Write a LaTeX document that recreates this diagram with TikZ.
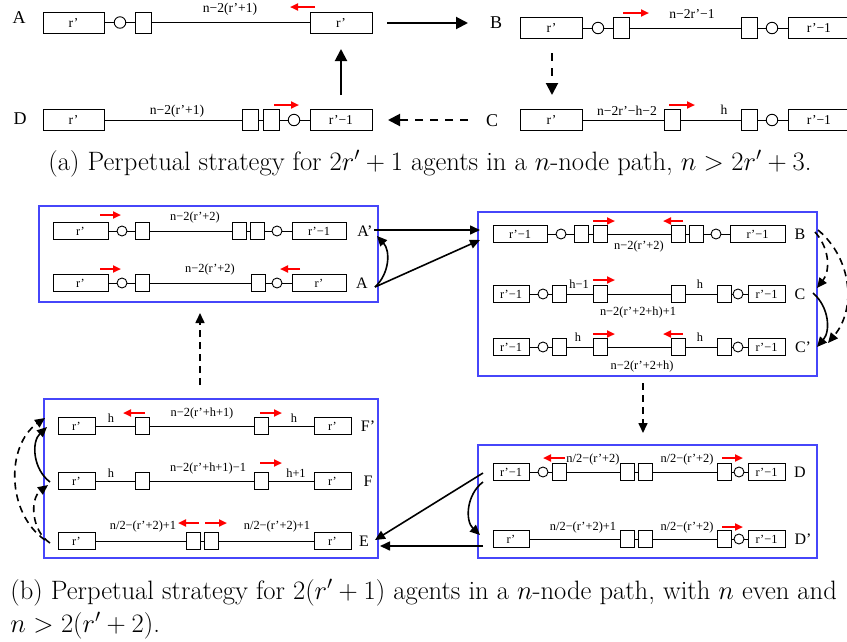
\documentclass[tikz,border=0pt]{standalone}
\usepackage{fix-cm}
\usepackage{fontspec}
\newfontfamily\tms{Liberation Serif}
\usetikzlibrary{arrows.meta}
\definecolor{grpblue}{RGB}{70,70,250}
\newcommand\rowafont{\tms\fontsize{13.6}{15}\selectfont}
\newcommand\rowbfont{\tms\fontsize{12.4}{14}\selectfont}
\tikzset{
  boxA/.style={draw, fill=white, inner sep=0pt, minimum height=21pt, minimum width=#1, font=\rowafont},
  agA/.style={draw, fill=white, inner sep=0pt, minimum height=21pt, minimum width=16pt},
  vtxA/.style={draw, circle, fill=white, inner sep=0pt, minimum size=11.5pt},
  lblA/.style={inner sep=0pt, font=\rowafont},
  stA/.style={inner sep=0pt, font=\tms\fontsize{18}{20}\selectfont},
  boxB/.style={draw, fill=white, inner sep=0pt, minimum height=17pt, minimum width=#1, font=\rowbfont},
  agB/.style={draw, fill=white, inner sep=0pt, minimum height=17pt, minimum width=14pt},
  vtxB/.style={draw, circle, fill=white, inner sep=0pt, minimum size=10pt},
  lblB/.style={inner sep=0pt, font=\rowbfont},
  stB/.style={inner sep=0pt, font=\tms\fontsize{16}{18}\selectfont},
  grp/.style={draw=grpblue, line width=1.2pt, inner sep=0pt},
  mv/.style={red, line width=2pt, -{Triangle[length=8pt,width=7pt]}},
  bigarr/.style={line width=2pt, -{Triangle[length=12pt,width=12pt]}},
  bigdash/.style={bigarr, dash pattern=on 8pt off 7pt},
  arrb/.style={line width=1.6pt, -{Triangle[length=10pt,width=9pt]}},
  dashb/.style={arrb, dash pattern=on 7pt off 5pt},
  captext/.style={inner sep=0pt, anchor=base west, font=\fontsize{26.6}{32}\selectfont},
}
\begin{document}
\begin{tikzpicture}[x=1pt,y=-1pt,line width=0.9pt]
\useasboundingbox (0,0) rectangle (847,641);

% ---------------- (a) ----------------
% state A
\node[boxA=61pt] (A1) at (73.5,22.5) {r’};
\node[vtxA] (A2) at (120,22.5) {};
\node[agA] (A3) at (143,22.5) {};
\node[boxA=62pt] (A4) at (341,22.5) {r’};
\draw (A1) -- (A2) -- (A3) -- (A4);
\node[lblA] (A5) at (230,9) {n−2(r’+1)};
\draw[mv] (315,7) -- (290,7);
\node[stA] (Alab) at (19,18) {A};

% state B
\node[boxA=62pt] (B1) at (551.5,28) {r’};
\node[vtxA] (B2) at (598,28) {};
\node[agA] (B3) at (621,28) {};
\node[agA] (B4) at (749.5,28) {};
\node[vtxA] (B5) at (772,28) {};
\node[boxA=62pt] (B6) at (819,28) {r’−1};
\draw (B1) -- (B2) -- (B3) -- (B4) -- (B5) -- (B6);
\node[lblA] (B7) at (692,14) {n−2r’−1};
\draw[mv] (623,13) -- (649,13);
\node[stA] (Blab) at (496,23) {B};

% state C
\node[boxA=62pt] (C1) at (551.5,120) {r’};
\node[agA] (C2) at (672.5,120) {};
\node[agA] (C3) at (749.5,120) {};
\node[vtxA] (C4) at (772,120) {};
\node[boxA=62pt] (C5) at (819,120) {r’−1};
\draw (C1) -- (C2) -- (C3) -- (C4) -- (C5);
\node[lblA] (C6) at (627,111) {n−2r’−h−2};
\node[lblA] (C7) at (724,110) {h};
\draw[mv] (669,105) -- (695,105);
\node[stA] (Clab) at (492,121) {C};

% state D
\node[boxA=61pt] (D1) at (73.5,120) {r’};
\node[agA] (D2) at (250.5,120) {};
\node[agA] (D3) at (271,120) {};
\node[vtxA] (D4) at (294,120) {};
\node[boxA=62pt] (D5) at (341,120) {r’−1};
\draw (D1) -- (D2) -- (D3) -- (D4) -- (D5);
\node[lblA] (D6) at (177,111) {n−2(r’+1)};
\draw[mv] (274,105) -- (299,105);
\node[stA] (Dlab) at (20,119) {D};

% transitions of (a)
\coordinate (ab0) at (387,23);  \coordinate (ab1) at (468,23);
\coordinate (bc0) at (552,53);  \coordinate (bc1) at (552,95);
\coordinate (cd0) at (468,120); \coordinate (cd1) at (388,120);
\coordinate (da0) at (341,95);  \coordinate (da1) at (341,49);
\draw[bigarr] (ab0) -- (ab1);
\draw[bigdash] (bc0) -- (bc1);
\draw[bigdash] (cd0) -- (cd1);
\draw[bigarr] (da0) -- (da1);

\node[captext] (capa) at (48,170) {(a) Perpetual strategy for $2r'+1$ agents in a $n$-node path, $n>2r'+3$.};

% ---------------- (b) ----------------
\node[grp, minimum width=339pt, minimum height=96pt] (GA) at (208.5,254) {};
\node[grp, minimum width=339pt, minimum height=164pt] (GB) at (647.5,294) {};
\node[grp, minimum width=339pt, minimum height=113pt] (GD) at (647.5,501.5) {};
\node[grp, minimum width=334pt, minimum height=159pt] (GE) at (211,478.5) {};

% state A'
\node[boxB=55pt] (P1) at (80.5,231) {r’};
\node[vtxB] (P2) at (122,231) {};
\node[agB] (P3) at (142.5,231) {};
\node[agB] (P4) at (239,231) {};
\node[agB] (P5) at (257,231) {};
\node[vtxB] (P6) at (277,231) {};
\node[boxB=54pt] (P7) at (319,231) {r’−1};
\draw (P1) -- (P2) -- (P3) -- (P4) -- (P5) -- (P6) -- (P7);
\node[lblB] (P8) at (195,218) {n−2(r’+2)};
\draw[mv] (100,215) -- (121,215);
\node[stB] (Pl) at (365,231) {A’};

% state A
\node[boxB=55pt] (Q1) at (80.5,283) {r’};
\node[vtxB] (Q2) at (122,283) {};
\node[agB] (Q3) at (142.5,283) {};
\node[agB] (Q4) at (258,283) {};
\node[vtxB] (Q5) at (277,283) {};
\node[boxB=54pt] (Q6) at (319,283) {r’};
\draw (Q1) -- (Q2) -- (Q3) -- (Q4) -- (Q5) -- (Q6);
\node[lblB] (Q7) at (210,270) {n−2(r’+2)};
\draw[mv] (100,269) -- (121,269);
\draw[mv] (300,269) -- (280,269);
\node[stB] (Ql) at (362,283) {A};

% state B
\node[boxB=54pt] (R1) at (520,234) {r’−1};
\node[vtxB] (R2) at (561,234) {};
\node[agB] (R3) at (581,234) {};
\node[agB] (R4) at (600,234) {};
\node[agB] (R5) at (678,234) {};
\node[agB] (R6) at (696,234) {};
\node[vtxB] (R7) at (716,234) {};
\node[boxB=55pt] (R8) at (757.5,234) {r’−1};
\draw (R1) -- (R2) -- (R3) -- (R4) -- (R5) -- (R6) -- (R7) -- (R8);
\node[lblB] (R9) at (639,247) {n−2(r’+2)};
\draw[mv] (593,221) -- (615,221);
\draw[mv] (683,221) -- (663,221);
\node[stB] (Rl) at (800,234) {B};

% state C
\node[boxB=36pt] (S1) at (511,294) {r’−1};
\node[vtxB] (S2) at (543,294) {};
\node[agB] (S3) at (559,294) {};
\node[agB] (S4) at (600,294) {};
\node[agB] (S5) at (678,294) {};
\node[agB] (S6) at (724,294) {};
\node[vtxB] (S7) at (738,294) {};
\node[boxB=37pt] (S8) at (766.5,294) {r’−1};
\draw (S1) -- (S2) -- (S3) -- (S4) -- (S5) -- (S6) -- (S7) -- (S8);
\node[lblB] (S9) at (579,284) {h−1};
\node[lblB] (S10) at (700,284) {h};
\node[lblB] (S11) at (638,313) {n−2(r’+2+h)+1};
\draw[mv] (593,280) -- (615,280);
\node[stB] (Sl) at (800,294) {C};

% state C'
\node[boxB=36pt] (T1) at (511,347) {r’−1};
\node[vtxB] (T2) at (543,347) {};
\node[agB] (T3) at (559,347) {};
\node[agB] (T4) at (600,347) {};
\node[agB] (T5) at (678,347) {};
\node[agB] (T6) at (724,347) {};
\node[vtxB] (T7) at (738,347) {};
\node[boxB=37pt] (T8) at (766.5,347) {r’−1};
\draw (T1) -- (T2) -- (T3) -- (T4) -- (T5) -- (T6) -- (T7) -- (T8);
\node[lblB] (T9) at (578,337) {h};
\node[lblB] (T10) at (700,337) {h};
\node[lblB] (T11) at (642,367) {n−2(r’+2+h)};
\draw[mv] (593,334) -- (615,334);
\draw[mv] (683,334) -- (663,334);
\node[stB] (Tl) at (803,347) {C’};

% state D
\node[boxB=36pt] (U1) at (511,472) {r’−1};
\node[vtxB] (U2) at (543,472) {};
\node[agB] (U3) at (559,472) {};
\node[agB] (U4) at (627.5,472) {};
\node[agB] (U5) at (645,472) {};
\node[agB] (U6) at (724,472) {};
\node[vtxB] (U7) at (739,472) {};
\node[boxB=37pt] (U8) at (766.5,472) {r’−1};
\draw (U1) -- (U2) -- (U3) -- (U4) -- (U5) -- (U6) -- (U7) -- (U8);
\node[lblB] (U9) at (593,460) {n/2−(r’+2)};
\node[lblB] (U10) at (687,460) {n/2−(r’+2)};
\draw[mv] (565,458) -- (543,458);
\draw[mv] (722,458) -- (743,458);
\node[stB] (Ul) at (800,472) {D};

% state D'
\node[boxB=36pt] (V1) at (511,539) {r’};
\node[agB] (V2) at (627.5,539) {};
\node[agB] (V3) at (645,539) {};
\node[agB] (V4) at (724,539) {};
\node[vtxB] (V5) at (739,539) {};
\node[boxB=37pt] (V6) at (766.5,539) {r’−1};
\draw (V1) -- (V2) -- (V3) -- (V4) -- (V5) -- (V6);
\node[lblB] (V7) at (583,528) {n/2−(r’+2)+1};
\node[lblB] (V8) at (687,528) {n/2−(r’+2)};
\draw[mv] (722,527) -- (743,527);
\node[stB] (Vl) at (803,539) {D’};

% state F'
\node[boxB=37pt] (W1) at (76.5,426) {r’};
\node[agB] (W2) at (142.5,426) {};
\node[agB] (W3) at (261.5,426) {};
\node[boxB=37pt] (W4) at (332.5,426) {r’};
\draw (W1) -- (W2) -- (W3) -- (W4);
\node[lblB] (W5) at (111,418) {h};
\node[lblB] (W6) at (202,414) {n−2(r’+h+1)};
\node[lblB] (W7) at (294,418) {h};
\draw[mv] (145,413) -- (123,413);
\draw[mv] (260,413) -- (282,413);
\node[stB] (Wl) at (368,426) {F’};

% state F
\node[boxB=37pt] (X1) at (76.5,481) {r’};
\node[agB] (X2) at (142.5,481) {};
\node[agB] (X3) at (261.5,481) {};
\node[boxB=37pt] (X4) at (332.5,481) {r’};
\draw (X1) -- (X2) -- (X3) -- (X4);
\node[lblB] (X5) at (111,473) {h};
\node[lblB] (X6) at (208,469) {n−2(r’+h+1)−1};
\node[lblB] (X7) at (296,473) {h+1};
\draw[mv] (260,463) -- (282,463);
\node[stB] (Xl) at (368,481) {F};

% state E
\node[boxB=37pt] (Y1) at (76.5,541) {r’};
\node[agB] (Y2) at (193,541) {};
\node[agB] (Y3) at (211,541) {};
\node[boxB=37pt] (Y4) at (332.5,541) {r’};
\draw (Y1) -- (Y2) -- (Y3) -- (Y4);
\node[lblB] (Y5) at (143,527) {n/2−(r’+2)+1};
\node[lblB] (Y6) at (277,527) {n/2−(r’+2)+1};
\draw[mv] (199,523) -- (178,523);
\draw[mv] (205,523) -- (227,523);
\node[stB] (Yl) at (364,541) {E};

% transitions of (b)
\coordinate (apOut) at (374,230); \coordinate (bIn1) at (480,230);
\coordinate (aOut) at (375,287);  \coordinate (bIn2) at (480,240);
\coordinate (apIn) at (377,236);
\draw[arrb] (apOut) -- (bIn1);
\draw[arrb] (aOut) -- (bIn2);
\draw[arrb] (aOut) to[bend right=45] (apIn);

\coordinate (bOut) at (815,232);  \coordinate (cIn) at (817,288);
\coordinate (bOut2) at (818,230); \coordinate (cpIn2) at (828,343);
\coordinate (cOut) at (813,293);  \coordinate (cpIn) at (817,347);
\draw[dashb] (bOut) to[bend left=40] (cIn);
\draw[dashb] (bOut2) to[bend left=45] (cpIn2);
\draw[arrb] (cOut) to[bend left=45] (cpIn);

\coordinate (gbOut) at (643,383); \coordinate (gdIn) at (643,433);
\draw[dashb] (gbOut) -- (gdIn);

\coordinate (dOut) at (483,473);  \coordinate (eIn1) at (375,540);
\coordinate (dpOut) at (483,546); \coordinate (eIn2) at (380,546);
\coordinate (dOut2) at (483,482); \coordinate (dpIn) at (480,535);
\draw[arrb] (dOut) -- (eIn1);
\draw[arrb] (dpOut) -- (eIn2);
\draw[arrb] (dOut2) to[bend right=50] (dpIn);

\coordinate (fOut) at (50,482);   \coordinate (fpIn) at (47,427);
\coordinate (eOut) at (50,543);   \coordinate (fIn) at (48,485);
\coordinate (eOut2) at (45,540);  \coordinate (fpIn2) at (45,418);
\draw[arrb] (fOut) to[bend left=50] (fpIn);
\draw[dashb] (eOut) to[bend left=55] (fIn);
\draw[dashb] (eOut2) to[bend left=55] (fpIn2);

\coordinate (geOut) at (200,385); \coordinate (gaIn) at (200,313);
\draw[dashb] (geOut) -- (gaIn);

\node[captext] (capb1) at (10,599) {(b) Perpetual strategy for $2(r'+1)$ agents in a $n$-node path, with $n$ even and};
\node[captext] (capb2) at (10,632) {$n>2(r'+2)$.};
\end{tikzpicture}
\end{document}
